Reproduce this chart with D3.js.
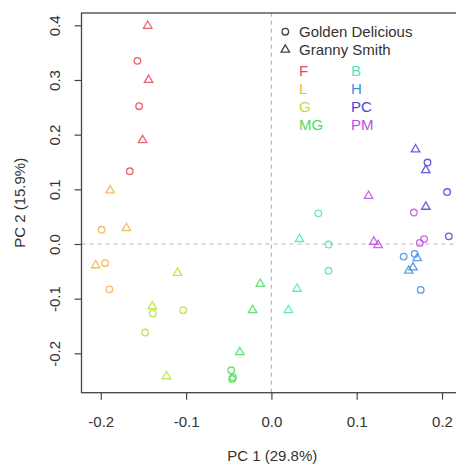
<!DOCTYPE html>
<html>
<head>
<meta charset="utf-8">
<script src="https://cdn.jsdelivr.net/npm/d3@7"></script>
<style>
  body { margin: 0; background: #fff; }
  svg { font-family: "Liberation Sans", Arial, sans-serif; }
</style>
</head>
<body>
<div id="chart"></div>
<script>
// sites and their colours
const sites = ['F', 'L', 'G', 'MG', 'B', 'H', 'PC', 'PM'];
const siteColors = ['#e8475a', '#f2b24a', '#b5e33c', '#4cdc5a', '#4fe3c4', '#3d8fe6', '#4b3fd6', '#c04fe6'];
const cultivars = ['Golden Delicious', 'Granny Smith'];

// one entry per sample (GD = Golden Delicious, GS = Granny Smith)
const site = [
  'F','F','F','F','F','F',
  'L','L','L','L','L','L',
  'G','G','G','G','G','G',
  'MG','MG','MG','MG','MG','MG',
  'B','B','B','B','B','B',
  'H','H','H','H','H','H',
  'PC','PC','PC','PC','PC','PC',
  'PM','PM','PM','PM','PM','PM'
];
const cultivar = [
  'GS','GD','GS','GD','GS','GD',
  'GS','GD','GS','GS','GD','GD',
  'GS','GS','GD','GD','GD','GS',
  'GS','GS','GS','GD','GD','GD',
  'GS','GD','GD','GD','GS','GS',
  'GD','GD','GS','GS','GS','GD',
  'GS','GD','GS','GD','GS','GD',
  'GS','GD','GS','GS','GD','GD'
];
const pc1 = [
  -0.145, -0.157, -0.144, -0.155, -0.151, -0.166,
  -0.189, -0.199, -0.170, -0.206, -0.195, -0.190,
  -0.110, -0.1395, -0.139, -0.1035, -0.148, -0.123,
  -0.013, -0.022, -0.037, -0.047, -0.045, -0.046,
  0.033, 0.067, 0.055, 0.067, 0.030, 0.020,
  0.155, 0.168, 0.171, 0.166, 0.161, 0.175,
  0.169, 0.183, 0.181, 0.206, 0.181, 0.208,
  0.114, 0.167, 0.120, 0.125, 0.174, 0.179
];
const pc2 = [
  0.399, 0.335, 0.300, 0.252, 0.190, 0.133,
  0.098, 0.026, 0.029, -0.039, -0.035, -0.083,
  -0.053, -0.114, -0.127, -0.121, -0.162, -0.242,
  -0.073, -0.121, -0.198, -0.231, -0.244, -0.247,
  0.009, -0.001, 0.056, -0.049, -0.082, -0.121,
  -0.023, -0.018, -0.026, -0.043, -0.049, -0.084,
  0.173, 0.149, 0.135, 0.095, 0.068, 0.014,
  0.088, 0.0575, 0.004, -0.002, 0.002, 0.009
];
const xTicks = [-0.2, -0.1, 0.0, 0.1, 0.2];
const yTicks = [-0.2, -0.1, 0.0, 0.1, 0.2, 0.3, 0.4];
const xLabel = 'PC 1 (29.8%)';
const yLabel = 'PC 2 (15.9%)';

const width = 456, height = 465;
const xlim = [-0.2226, 0.2246];
const ylim = [-0.272, 0.4225];

const svg = d3.select('#chart')
  .append('svg')
  .attr('width', width)
  .attr('height', height);

const x = d3.scaleLinear().domain(xlim).range([81.5, 463]);
const y = d3.scaleLinear().domain(ylim).range([392.7, 13]);

const color = d3.scaleOrdinal().domain(sites).range(siteColors);

// reference lines at 0
svg.append('line')
  .attr('x1', x(0)).attr('x2', x(0))
  .attr('y1', y(ylim[0])).attr('y2', y(ylim[1]))
  .attr('stroke', '#b8b8b8').attr('stroke-width', 1.2)
  .attr('stroke-dasharray', '4,4');
svg.append('line')
  .attr('x1', x(xlim[0])).attr('x2', x(xlim[1]))
  .attr('y1', y(0)).attr('y2', y(0))
  .attr('stroke', '#b8b8b8').attr('stroke-width', 1.2)
  .attr('stroke-dasharray', '4,4');

// axes
const xAxis = svg.append('g')
  .attr('transform', `translate(0, ${y(ylim[0])})`)
  .call(d3.axisBottom(x).tickValues(xTicks).tickFormat(d => d.toFixed(1))
    .tickSize(7).tickPadding(17));
xAxis.select('.domain').remove();

const yAxis = svg.append('g')
  .attr('transform', `translate(${x(xlim[0])}, 0)`)
  .call(d3.axisLeft(y).tickValues(yTicks).tickFormat(d => d.toFixed(1))
    .tickSize(7));
yAxis.select('.domain').remove();
yAxis.selectAll('text')
  .attr('x', 0)
  .attr('y', -27)
  .attr('dy', '0.35em')
  .attr('transform', 'rotate(-90)')
  .attr('text-anchor', 'middle');

svg.selectAll('.tick line').attr('stroke', '#444').attr('stroke-width', 1.2);
svg.selectAll('.tick text')
  .attr('fill', '#333')
  .style('font-size', '15px')
  .style('font-family', '"Liberation Sans", Arial, sans-serif');

// box
svg.append('rect')
  .attr('x', x(xlim[0])).attr('y', y(ylim[1]))
  .attr('width', x(xlim[1]) - x(xlim[0]))
  .attr('height', y(ylim[0]) - y(ylim[1]))
  .attr('fill', 'none')
  .attr('stroke', '#444')
  .attr('stroke-width', 1.3);

// points
const points = pc1.map((v, i) => ({pc1: v, pc2: pc2[i], site: site[i], cultivar: cultivar[i]}));
const circleSym = d3.symbol().type(d3.symbolCircle).size(34);
const triSym = d3.symbol().type(d3.symbolTriangle).size(31);

svg.append('g')
  .selectAll('path')
  .data(points)
  .join('path')
  .attr('transform', d => `translate(${x(d.pc1)}, ${y(d.pc2)})`)
  .attr('d', d => d.cultivar === 'GD' ? circleSym() : triSym())
  .attr('fill', 'none')
  .attr('stroke', d => color(d.site))
  .attr('stroke-opacity', 0.85)
  .attr('stroke-width', 1.3);

// axis titles
svg.append('text')
  .attr('x', (x(xlim[0]) + x(xlim[1])) / 2)
  .attr('y', 461)
  .attr('text-anchor', 'middle')
  .attr('fill', '#333')
  .style('font-size', '15px')
  .text(xLabel);

svg.append('text')
  .attr('transform', `translate(25, ${(y(ylim[0]) + y(ylim[1])) / 2}) rotate(-90)`)
  .attr('text-anchor', 'middle')
  .attr('fill', '#333')
  .style('font-size', '15px')
  .text(yLabel);

// legend: cultivars
const legend = svg.append('g');
legend.selectAll('path')
  .data(cultivars)
  .join('path')
  .attr('transform', (d, i) => `translate(285.3, ${31.7 + i * 18})`)
  .attr('d', (d, i) => i === 0 ? circleSym() : triSym())
  .attr('fill', 'none')
  .attr('stroke', '#444')
  .attr('stroke-width', 1.3);
legend.selectAll('text.cv')
  .data(cultivars)
  .join('text')
  .attr('class', 'cv')
  .attr('x', 299)
  .attr('y', (d, i) => 31.7 + i * 18)
  .attr('dy', '0.35em')
  .attr('fill', '#333')
  .style('font-size', '15px')
  .text(d => d);

// legend: sites in two columns
legend.selectAll('text.site')
  .data(sites)
  .join('text')
  .attr('class', 'site')
  .attr('x', (d, i) => i < 4 ? 299 : 351)
  .attr('y', (d, i) => 70.5 + (i % 4) * 18)
  .attr('dy', '0.35em')
  .attr('fill', d => color(d))
  .style('font-size', '15px')
  .text(d => d);
</script>
</body>
</html>
